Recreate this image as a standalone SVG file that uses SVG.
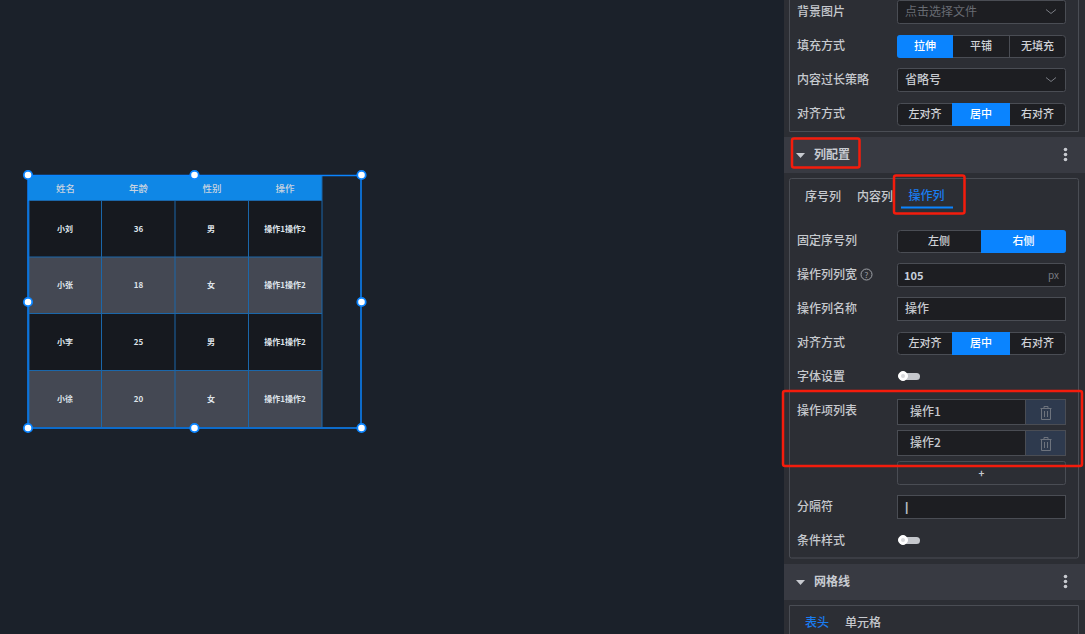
<svg xmlns="http://www.w3.org/2000/svg" width="1085" height="634" viewBox="0 0 1085 634">
<style>
text{font-family:"Noto Sans CJK SC","Liberation Sans",sans-serif}
.l{font-size:12px;fill:#c6c9ce;font-weight:500}
.c{font-size:11px;fill:#d0d3d8;text-anchor:middle;font-weight:500}
.v{font-size:12px;fill:#c6c9ce;font-weight:500}
.t{font-size:8px;fill:#dfe4ea;text-anchor:middle;font-weight:700}
.h{font-size:9.500px;fill:#c9d4e0;text-anchor:middle;font-weight:500}
.box{fill:#1d1e22;stroke:#4a4d54;stroke-width:1}
.on{fill:#0a84ff}
.blk{fill:none;stroke:#4a4d54;stroke-width:1}
.sec{fill:#383a42}
.red{fill:none;stroke:#f41c0c;stroke-width:2.500}
.grid{stroke:#1b67aa;stroke-width:1;fill:none}
.hd{fill:#fff;stroke:#0a84ff;stroke-width:1.800}
.ch{fill:none;stroke:#7a7d84;stroke-width:1}
.ic{fill:none;stroke:#6d737d;stroke-width:1}
.del{fill:#2e3a4e;stroke:#4a4d54}
.dot{fill:#c8cad0}
.tr{fill:#c8cad0}
</style>
<rect width="1085" height="634" fill="#1b212a"/>
<g id="table-widget">
<rect x="28" y="176" width="294" height="25" fill="#0f87e6"/>
<rect x="29" y="201" width="293" height="56" fill="#16191f"/>
<rect x="29" y="257" width="293" height="57" fill="#444853"/>
<rect x="29" y="314" width="293" height="57" fill="#16191f"/>
<rect x="29" y="371" width="293" height="56" fill="#444853"/>
<path class="grid" d="M29 200.500H322M29 257H322M29 313.500H322M29 370.500H322M101.500 201V427M175 201V427M248.500 201V427M322 176V427M29 201V427"/>
<text class="h" x="65.500" y="192">姓名</text><text class="h" x="138.500" y="192">年龄</text><text class="h" x="212" y="192">性别</text><text class="h" x="285" y="192">操作</text>
<text class="t" x="65" y="232">小刘</text><text class="t" x="138.500" y="232">36</text><text class="t" x="211" y="232">男</text><text class="t" x="285" y="232">操作1操作2</text>
<text class="t" x="65" y="288">小张</text><text class="t" x="138.500" y="288">18</text><text class="t" x="211" y="288">女</text><text class="t" x="285" y="288">操作1操作2</text>
<text class="t" x="65" y="345">小李</text><text class="t" x="138.500" y="345">25</text><text class="t" x="211" y="345">男</text><text class="t" x="285" y="345">操作1操作2</text>
<text class="t" x="65" y="402">小徐</text><text class="t" x="138.500" y="402">20</text><text class="t" x="211" y="402">女</text><text class="t" x="285" y="402">操作1操作2</text>
</g>
<g id="selection">
<rect x="28" y="175.500" width="333" height="252.500" fill="none" stroke="#0a84ff" stroke-width="1.500"/>
<circle class="hd" cx="28" cy="175" r="4.200"/><circle class="hd" cx="194.500" cy="175" r="4.200"/><circle class="hd" cx="361.500" cy="175" r="4.200"/>
<circle class="hd" cx="28" cy="302" r="4.200"/><circle class="hd" cx="361.500" cy="302" r="4.200"/>
<circle class="hd" cx="28" cy="428" r="4.200"/><circle class="hd" cx="194.500" cy="428" r="4.200"/><circle class="hd" cx="361.500" cy="428" r="4.200"/>
</g>
<g id="panel">
<rect x="784" y="0" width="301" height="634" fill="#2c2e34"/>
<path class="blk" d="M789.500 0V131.500H1078.500V0"/>
<rect class="sec" x="784" y="137" width="301" height="36"/>
<rect class="blk" x="789.500" y="178.500" width="289" height="379.500" rx="2"/>
<rect class="sec" x="784" y="564" width="301" height="36"/>
<path class="blk" d="M789.500 634V605.500H1078.500V634"/>
</g>
<g id="bg-image"><text class="l" x="797" y="16">背景图片</text>
<rect class="box" x="897.500" y="0.500" width="168" height="23" rx="2"/><text x="905" y="16" font-size="12" fill="#686b72">点击选择文件</text><path class="ch" d="M1046 9.500L1051 13.500L1056 9.500"/></g>
<g id="fill-mode"><text class="l" x="797" y="50">填充方式</text>
<rect class="box" x="897.500" y="35.500" width="168" height="22" rx="3"/><path class="on" d="M900 35H953V58H900Q897 58 897 55V38Q897 35 900 35Z"/><path stroke="#4a4d54" d="M1009.500 36V57"/>
<text class="c" x="925" y="50" style="fill:#fff">拉伸</text><text class="c" x="981" y="50">平铺</text><text class="c" x="1037.500" y="50">无填充</text></g>
<g id="overflow"><text class="l" x="797" y="84">内容过长策略</text>
<rect class="box" x="897.500" y="68.500" width="168" height="23" rx="2"/><text class="v" x="905" y="84">省略号</text><path class="ch" d="M1046 77.500L1051 81.500L1056 77.500"/></g>
<g id="align-1"><text class="l" x="797" y="118">对齐方式</text>
<rect class="box" x="897.500" y="103.500" width="168" height="22" rx="3"/><rect class="on" x="952" y="103" width="58" height="23"/>
<text class="c" x="925" y="118">左对齐</text><text class="c" x="981" y="118" style="fill:#fff">居中</text><text class="c" x="1037.500" y="118">右对齐</text></g>
<g id="section-columns"><path class="tr" d="M796 153H805L800.500 158Z"/><text x="814" y="159" font-size="12" font-weight="700" fill="#c9ccd2">列配置</text>
<circle class="dot" cx="1065.500" cy="149.500" r="1.800"/><circle class="dot" cx="1065.500" cy="154.500" r="1.800"/><circle class="dot" cx="1065.500" cy="159.500" r="1.800"/></g>
<g id="tabs-columns"><text class="l" x="805" y="201">序号列</text><text class="l" x="857" y="201">内容列</text><text x="908.500" y="200" font-size="12" font-weight="500" fill="#1a7cf0">操作列</text><rect class="on" x="901" y="206.500" width="52" height="2"/></g>
<g id="fixed"><text class="l" x="797" y="245">固定序号列</text>
<rect class="box" x="897.500" y="230.500" width="168" height="22" rx="3"/><path class="on" d="M981 230H1063Q1066 230 1066 233V250Q1066 253 1063 253H981Z"/>
<text class="c" x="939" y="245">左侧</text><text class="c" x="1023.500" y="245" style="fill:#fff">右侧</text></g>
<g id="col-width"><text class="l" x="797" y="279">操作列列宽</text><circle cx="866.500" cy="274.500" r="5.500" class="ic" style="stroke:#a0a3a9"/><text x="866.500" y="277.500" font-size="8" fill="#a0a3a9" text-anchor="middle">?</text>
<rect class="box" x="897.500" y="263.500" width="168" height="23" rx="2"/><text x="904" y="280" font-size="11" font-weight="700" fill="#c6d0dc">105</text><text x="1048" y="279" font-size="10" fill="#777a80">px</text></g>
<g id="col-name"><text class="l" x="797" y="313">操作列名称</text>
<rect class="box" x="897.500" y="297.500" width="168" height="23"/><text class="v" x="905" y="313">操作</text></g>
<g id="align-2"><text class="l" x="797" y="347">对齐方式</text>
<rect class="box" x="897.500" y="332.500" width="168" height="22" rx="3"/><rect class="on" x="952" y="332" width="58" height="23"/>
<text class="c" x="925" y="347">左对齐</text><text class="c" x="981" y="347" style="fill:#fff">居中</text><text class="c" x="1037.500" y="347">右对齐</text></g>
<g id="font-set"><text class="l" x="797" y="381">字体设置</text><rect x="899" y="373" width="21" height="7" rx="3.500" fill="#c5c7cc"/><circle cx="903" cy="376" r="4.500" fill="#fff" stroke="#fff"/><circle cx="903" cy="376" r="2" fill="#d8d9dc"/></g>
<g id="op-list"><text class="l" x="797" y="415">操作项列表</text>
<rect class="box" x="897.500" y="399.500" width="168" height="25"/><rect class="del" x="1025.500" y="399.500" width="40" height="25"/><text class="v" x="910" y="416">操作1</text>
<path class="ic" d="M1040.500 408.500H1051.500M1044 408.500V406.500H1048V408.500M1041.500 408.500V419.500H1050.500V408.500M1044.500 411V417M1047.500 411V417"/>
<rect class="box" x="897.500" y="430.500" width="168" height="25"/><rect class="del" x="1025.500" y="430.500" width="40" height="25"/><text class="v" x="910" y="447">操作2</text>
<path class="ic" d="M1040.500 439.500H1051.500M1044 439.500V437.500H1048V439.500M1041.500 439.500V450.500H1050.500V439.500M1044.500 442V448M1047.500 442V448"/>
<rect x="897.500" y="461.500" width="168" height="23" rx="2" fill="#2c2e34" stroke="#4a4d54"/><text x="981.500" y="477" font-size="10" font-weight="700" fill="#c6c9ce" text-anchor="middle">+</text></g>
<g id="separator"><text class="l" x="797" y="511">分隔符</text><rect class="box" x="897.500" y="495.500" width="168" height="23"/><text x="905" y="511" font-size="12" font-weight="700" fill="#b8bbc0" style="font-family:'Liberation Sans',sans-serif">|</text></g>
<g id="cond-style"><text class="l" x="797" y="545">条件样式</text><rect x="899" y="537" width="21" height="7" rx="3.500" fill="#c5c7cc"/><circle cx="903" cy="540" r="4.500" fill="#fff" stroke="#fff"/><circle cx="903" cy="540" r="2" fill="#d8d9dc"/></g>
<g id="section-grid"><path class="tr" d="M796 580H805L800.500 585Z"/><text x="814" y="586" font-size="12" font-weight="700" fill="#c9ccd2">网格线</text>
<circle class="dot" cx="1065.500" cy="576.500" r="1.800"/><circle class="dot" cx="1065.500" cy="581.500" r="1.800"/><circle class="dot" cx="1065.500" cy="586.500" r="1.800"/></g>
<g id="tabs-grid"><text x="805" y="627" font-size="12" font-weight="500" fill="#1a7cf0">表头</text><text class="l" x="845" y="627">单元格</text></g>
<g id="callouts">
<rect class="red" x="792" y="138.500" width="67.500" height="29" rx="2"/>
<rect class="red" x="894" y="175.500" width="70.500" height="38" rx="2"/>
<rect class="red" x="783" y="391" width="299" height="75" rx="2"/>
</g>
</svg>
